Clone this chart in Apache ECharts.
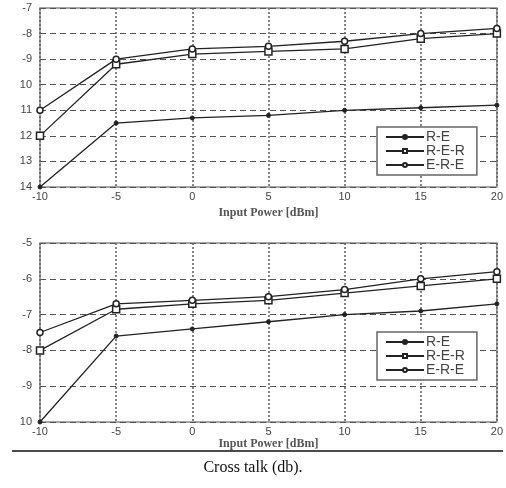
<!DOCTYPE html>
<html>
<head>
<meta charset="utf-8">
<script src="https://cdn.jsdelivr.net/npm/echarts@6/dist/echarts.min.js"></script>
<style>
html,body{margin:0;padding:0;background:#fff;}
#chart{width:506px;height:488px;}
</style>
</head>
<body>
<div id="chart"></div>
<script>
// Input power (dBm)
const inputPower = [-10, -5, 0, 5, 10, 15, 20];
const seriesNames = ['R-E', 'R-E-R', 'E-R-E'];
// Top panel
const topRE  = [-14, -11.5, -11.3, -11.2, -11.0, -10.9, -10.8];
const topRER = [-12, -9.2, -8.8, -8.7, -8.6, -8.2, -8.0];
const topERE = [-11, -9.0, -8.6, -8.5, -8.3, -8.0, -7.8];
// Bottom panel
const botRE  = [-10, -7.6, -7.4, -7.2, -7.0, -6.9, -6.7];
const botRER = [-8.0, -6.85, -6.7, -6.6, -6.4, -6.2, -6.0];
const botERE = [-7.5, -6.7, -6.6, -6.5, -6.3, -6.0, -5.8];
const xTitle = 'Input Power [dBm]';
const caption = 'Cross talk (db).';

const pair = (ys) => inputPower.map((x, i) => [x, ys[i]]);
const lineColor = '#222';
const styles = {
  'R-E':   { symbol: 'circle', symbolSize: 4, itemStyle: { color: lineColor, borderColor: lineColor, borderWidth: 1 } },
  'R-E-R': { symbol: 'rect', symbolSize: 7, itemStyle: { color: '#fff', borderColor: lineColor, borderWidth: 1.5 } },
  'E-R-E': { symbol: 'circle', symbolSize: 6, itemStyle: { color: '#fff', borderColor: lineColor, borderWidth: 1.5 } }
};
function mk(name, data, idx) {
  return Object.assign({
    name: name, type: 'line', xAxisIndex: idx, yAxisIndex: idx,
    data: pair(data), showSymbol: true, animation: false,
    lineStyle: { color: lineColor, width: 1.3 }
  }, styles[name]);
}
const yFmt = (v) => (Math.abs(v) >= 10 ? String(Math.abs(v)) : String(v));
const labelFont = { fontFamily: 'Liberation Sans, Arial, sans-serif', fontSize: 11, color: '#444' };

function xAx(idx, gap) {
  return {
    type: 'value', gridIndex: idx, min: -10, max: 20, interval: 5,
    axisLine: { show: false }, axisTick: { show: false },
    axisLabel: Object.assign({ margin: 4 }, labelFont),
    splitLine: { show: true, lineStyle: { type: [2, 2], color: '#666', width: 1.6 } },
    name: xTitle, nameLocation: 'middle', nameGap: gap,
    nameTextStyle: { fontFamily: 'Liberation Serif, Times New Roman, serif', fontWeight: 'bold', fontSize: 12, color: '#555' }
  };
}
function yAx(idx, min, max) {
  return {
    type: 'value', gridIndex: idx, min: min, max: max, interval: 1,
    axisLine: { show: false }, axisTick: { show: false },
    axisLabel: Object.assign({ margin: 8, formatter: yFmt }, labelFont),
    splitLine: { show: true, lineStyle: { type: [6, 4], color: '#555', width: 1.2 } }
  };
}
function lg(top) {
  return {
    data: seriesNames, orient: 'vertical', left: 377, top: top,
    itemWidth: 38, itemHeight: 5, itemGap: 0,
    padding: [3, 12, 3, 8],
    borderColor: '#666', borderWidth: 1.5, backgroundColor: '#fff',
    textStyle: { fontFamily: 'Liberation Sans, Arial, sans-serif', fontSize: 14, color: '#444', padding: [0, 0, 0, -3] }
  };
}

const chart = echarts.init(document.getElementById('chart'));
chart.setOption({
  backgroundColor: '#fff',
  animation: false,
  grid: [
    { left: 40, top: 8, right: 6, height: 179, show: true, borderColor: '#888', borderWidth: 1.5, backgroundColor: 'transparent' },
    { left: 40, top: 243, right: 6, height: 179, show: true, borderColor: '#888', borderWidth: 1.5, backgroundColor: 'transparent' }
  ],
  xAxis: [xAx(0, 20), xAx(1, 15)],
  yAxis: [yAx(0, -14, -7), yAx(1, -10, -5)],
  legend: [lg(127), lg(332)],
  series: [
    mk('R-E', topRE, 0), mk('R-E-R', topRER, 0), mk('E-R-E', topERE, 0),
    mk('R-E', botRE, 1), mk('R-E-R', botRER, 1), mk('E-R-E', botERE, 1)
  ],
  graphic: [
    { type: 'line', shape: { x1: 12, y1: 451, x2: 503, y2: 451 }, style: { stroke: '#111', lineWidth: 1.5 } },
    { type: 'text', left: 'center', top: 460, style: { text: caption, font: '16px "Liberation Serif", "Times New Roman", serif', fill: '#111' } }
  ]
});
</script>
</body>
</html>
